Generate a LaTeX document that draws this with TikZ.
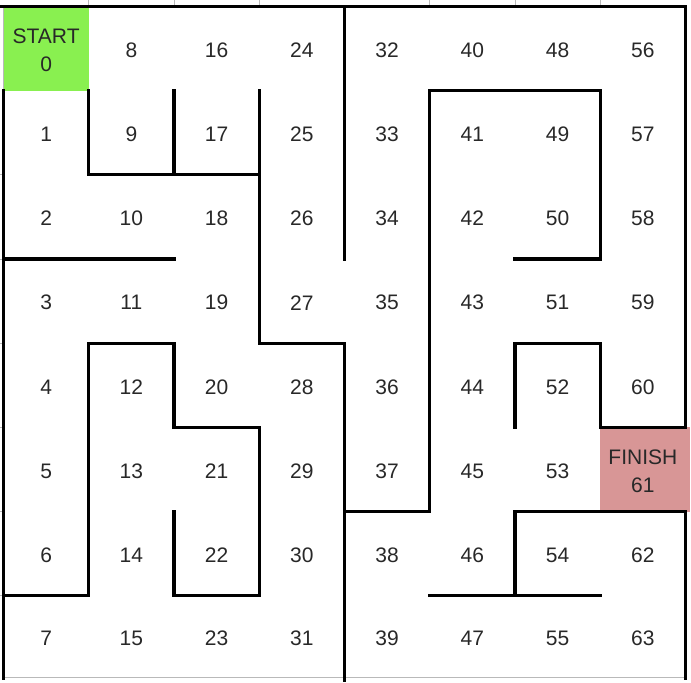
\documentclass[tikz,border=0pt]{standalone}
\usepackage{fontspec}
\setmainfont{Liberation Sans}
\definecolor{startg}{RGB}{137,240,80}
\definecolor{finishp}{RGB}{216,150,150}
\definecolor{txt}{RGB}{40,40,40}
\definecolor{grid}{RGB}{185,185,185}
\begin{document}
\begin{tikzpicture}[x=42.625pt,y=-42.1pt,
  wall/.style={line width=1.6pt,line cap=rect,line join=miter,black},
  thin/.style={line width=0.5pt,grid},
  cell/.style={text=txt,font=\fontsize{10.5pt}{14pt}\selectfont,align=center,inner sep=0pt,yshift=-0.75pt}]
\useasboundingbox (-1.75pt,3.25pt) rectangle (343.75pt,-338.25pt);
\coordinate (bl) at (0,7.975);
\coordinate (br) at (8,7.975);
% fills
\fill[startg] (0,0) rectangle (1,1);
\fill[finishp] (7,5) rectangle ([xshift=2.25pt]8,6);
% faint spreadsheet gridline remnants
\foreach \i in {1,2,3,5,6,7} \draw[thin] (\i,0) -- ([yshift=3.25pt]\i,0);
\foreach \j in {2,...,7} \draw[thin] (0,\j) -- ([xshift=-1.75pt]0,\j);
\draw[thin] (0,0) -- (0,1);
\draw[thin] (bl) -- (br);
% cell labels
\foreach \i in {0,...,7}{
  \foreach \j in {0,...,7}{
    \pgfmathtruncatemacro{\n}{8*\i+\j}
    \ifnum\n=0
      \node[cell] (c\n) at (\i+0.5,\j+0.5) {START\\0};
    \else\ifnum\n=61
      \node[cell] (c\n) at (\i+0.5,\j+0.5) {FINISH\\61};
    \else\ifnum\j=7
      \node[cell] (c\n) at (\i+0.5,\j+0.49) {\n};
    \else
      \node[cell] (c\n) at (\i+0.5,\j+0.5) {\n};
    \fi\fi\fi
  }
}
% outer walls
\draw[wall] ([xshift=-1.75pt]0,0) -- (8,0) -- (8,5) -- (7,5) -- (7,4) -- (6,4) -- (6,5);
\draw[wall] (0,1) -- (bl);
\draw[wall] (br) -- (8,6) -- (6,6) -- (6,7);
\draw[wall] (5,7) -- (7,7);
% inner walls
\draw[wall] (1,1) -- (1,2) -- (3,2);
\draw[wall] (2,1) -- (2,2);
\draw[wall] (3,1) -- (3,4) -- (4,4) -- (4,8);
\draw[wall] (4,0) -- (4,3);
\draw[wall] (0,3) -- (2,3);
\draw[wall] (0,7) -- (1,7) -- (1,4) -- (2,4) -- (2,5) -- (3,5) -- (3,7) -- (2,7) -- (2,6);
\draw[wall] (4,6) -- (5,6) -- (5,1) -- (7,1) -- (7,3) -- (6,3);
\end{tikzpicture}
\end{document}
